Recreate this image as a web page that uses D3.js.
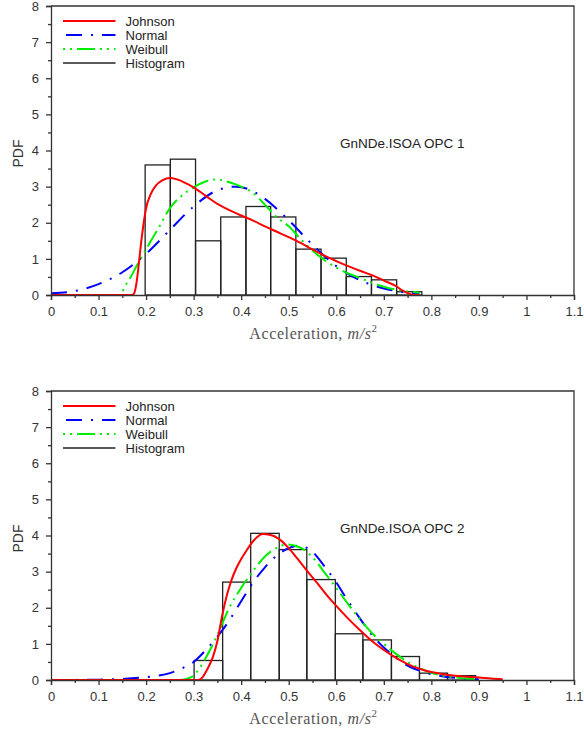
<!DOCTYPE html>
<html><head><meta charset="utf-8">
<script src="https://cdn.jsdelivr.net/npm/d3@7"></script>
<style>body{margin:0;background:#fff}</style>
</head><body>
<svg id="c" width="584" height="731"></svg>
<script>
// ---------- data ----------
const xTickValues = [0,0.1,0.2,0.3,0.4,0.5,0.6,0.7,0.8,0.9,1,1.1];
const xMinorValues = [0.05,0.15,0.25,0.35,0.45,0.55,0.65,0.75,0.85,0.95,1.05];
const yTickValues = [0,1,2,3,4,5,6,7,8];
const yMinorValues = [0.5,1.5,2.5,3.5,4.5,5.5,6.5,7.5];
const legendLabels = ["Johnson","Normal","Weibull","Histogram"];
const panelTitles = ["GnNDe.ISOA OPC 1","GnNDe.ISOA OPC 2"];

const hist1Edges  = [0.198,0.251,0.304,0.357,0.410,0.462,0.515,0.568,0.621,0.674,0.727,0.780];
const hist1Values = [3.60,3.76,1.50,2.16,2.45,2.16,1.27,1.02,0.51,0.42,0.09];
const hist2Edges  = [0.301,0.361,0.420,0.480,0.538,0.598,0.656,0.716,0.775,0.834,0.893];
const hist2Values = [0.54,2.71,4.06,3.61,2.78,1.28,1.11,0.65,0.19,0.12];

const johnson1 = [[0,0],[0.17,0],[0.175,0.05],[0.18,0.35],[0.185,0.9],[0.19,1.5],[0.195,2.0],[0.2,2.4],[0.21,2.8],[0.22,3.02],[0.235,3.18],[0.25,3.24],[0.265,3.2],[0.28,3.12],[0.3,2.98],[0.325,2.75],[0.35,2.52],[0.375,2.35],[0.4,2.2],[0.425,2.06],[0.45,1.9],[0.475,1.75],[0.5,1.6],[0.525,1.44],[0.55,1.26],[0.575,1.09],[0.6,0.94],[0.625,0.8],[0.65,0.67],[0.675,0.55],[0.7,0.4],[0.725,0.25],[0.74,0.12],[0.755,0.03],[0.765,0],[0.775,0]];
const normal1 = [[0,0.05],[0.05,0.11],[0.1,0.3],[0.15,0.63],[0.2,1.14],[0.25,1.8],[0.3,2.45],[0.35,2.9],[0.39,3.0],[0.425,2.87],[0.45,2.66],[0.5,2.07],[0.55,1.39],[0.6,0.8],[0.65,0.41],[0.7,0.18],[0.75,0.07],[0.775,0.04]];
const weibull1 = [[0,0],[0.1,0],[0.145,0],[0.15,0.08],[0.156,0.25],[0.166,0.46],[0.18,0.8],[0.2,1.27],[0.225,1.83],[0.25,2.4],[0.275,2.75],[0.3,2.98],[0.325,3.14],[0.345,3.2],[0.375,3.12],[0.4,3.0],[0.425,2.82],[0.45,2.5],[0.475,2.15],[0.5,1.9],[0.525,1.55],[0.55,1.23],[0.575,0.97],[0.6,0.76],[0.625,0.6],[0.65,0.47],[0.675,0.34],[0.7,0.23],[0.725,0.15],[0.75,0.1],[0.775,0.06]];

const johnson2 = [[0,0],[0.31,0],[0.32,0.1],[0.33,0.33],[0.34,0.62],[0.35,1.08],[0.36,1.78],[0.37,2.35],[0.38,2.78],[0.39,3.1],[0.4,3.35],[0.412,3.6],[0.425,3.84],[0.445,4.04],[0.46,4.02],[0.48,3.9],[0.5,3.65],[0.517,3.38],[0.54,3.0],[0.56,2.68],[0.58,2.35],[0.6,2.05],[0.625,1.7],[0.65,1.38],[0.675,1.08],[0.7,0.83],[0.725,0.62],[0.75,0.44],[0.775,0.31],[0.8,0.22],[0.825,0.16],[0.85,0.12],[0.875,0.09],[0.9,0.07],[0.925,0.04],[0.95,0.02]];
const normal2 = [[0,0],[0.1,0.01],[0.15,0.03],[0.2,0.08],[0.225,0.12],[0.25,0.19],[0.275,0.32],[0.3,0.5],[0.325,0.82],[0.35,1.2],[0.375,1.65],[0.4,2.18],[0.425,2.7],[0.45,3.12],[0.475,3.45],[0.5,3.65],[0.52,3.72],[0.55,3.55],[0.575,3.15],[0.6,2.7],[0.625,2.18],[0.65,1.7],[0.675,1.25],[0.7,0.9],[0.725,0.62],[0.75,0.4],[0.775,0.26],[0.8,0.16],[0.825,0.1],[0.85,0.06],[0.875,0.03],[0.9,0.02]];
const weibull2 = [[0,0],[0.27,0],[0.285,0.03],[0.3,0.12],[0.31,0.28],[0.325,0.6],[0.35,1.25],[0.375,2.0],[0.4,2.55],[0.425,3.02],[0.45,3.42],[0.475,3.66],[0.495,3.75],[0.525,3.66],[0.55,3.4],[0.575,2.98],[0.6,2.55],[0.625,2.1],[0.65,1.68],[0.675,1.3],[0.7,1.0],[0.725,0.73],[0.75,0.5],[0.775,0.33],[0.8,0.2],[0.825,0.12],[0.85,0.07],[0.875,0.04],[0.9,0.02]];

// ---------- layout / styles ----------
const svg = d3.select("#c");
const L = 51, R = 574;
const panels = [
  {top:6, bottom:295, edges:hist1Edges, vals:hist1Values, j:johnson1, n:normal1, w:weibull1, title:panelTitles[0]},
  {top:391, bottom:680, edges:hist2Edges, vals:hist2Values, j:johnson2, n:normal2, w:weibull2, title:panelTitles[1]}
];
const styles = {
  Johnson:{color:"#ff0000", dash:null, width:2},
  Normal:{color:"#0000ff", dash:"16,9,2,9", width:2, offset:33},
  Weibull:{color:"#00ee00", dash:"2,5,2,5,18,5", width:2, offset:0},
  Histogram:{color:"#222", dash:null, width:1.3}
};
const FONT = "'Liberation Sans', Arial, sans-serif";
const AX = "#333";

panels.forEach(p => {
  const x = d3.scaleLinear().domain([0,1.1]).range([L,R]);
  const y = d3.scaleLinear().domain([0,8]).range([p.bottom,p.top]);
  const g = svg.append("g");

  // histogram
  g.append("g").selectAll("rect").data(p.vals).join("rect")
    .attr("x", (d,i) => x(p.edges[i]))
    .attr("width", (d,i) => x(p.edges[i+1]) - x(p.edges[i]))
    .attr("y", d => y(d))
    .attr("height", d => y(0) - y(d))
    .attr("fill","none").attr("stroke",styles.Histogram.color).attr("stroke-width",styles.Histogram.width);

  const line = d3.line().x(d => x(d[0])).y(d => y(d[1])).curve(d3.curveMonotoneX);
  [["Normal",p.n],["Weibull",p.w],["Johnson",p.j]].forEach(([k,data]) => {
    const s = styles[k];
    g.append("path").datum(data).attr("d", line)
      .attr("fill","none").attr("stroke", s.color).attr("stroke-width", s.width)
      .attr("stroke-dasharray", s.dash).attr("stroke-linejoin","round");
  });

  // axes
  g.append("g").attr("transform",`translate(0,${p.bottom})`)
    .call(d3.axisBottom(x).tickValues(xTickValues).tickSize(5).tickPadding(7).tickFormat(d => String(d)));
  g.append("g").attr("transform",`translate(0,${p.bottom})`)
    .call(d3.axisBottom(x).tickValues(xMinorValues).tickSize(3).tickFormat(""))
    .call(a => a.select(".domain").remove());
  g.append("g").attr("transform",`translate(${L},0)`)
    .call(d3.axisLeft(y).tickValues(yTickValues).tickSize(5).tickPadding(7).tickFormat(d => String(d)));
  g.append("g").attr("transform",`translate(${L},0)`)
    .call(d3.axisLeft(y).tickValues(yMinorValues).tickSize(3).tickFormat(""))
    .call(a => a.select(".domain").remove());
  g.selectAll(".domain, .tick line").attr("stroke",AX).attr("stroke-width",1.3);
  g.selectAll(".tick text").attr("fill",AX).style("font-family",FONT).style("font-size","13px");
  // frame (top and right)
  g.append("path").attr("d",`M${L},${p.top}H${R}V${p.bottom}`).attr("fill","none").attr("stroke",AX).attr("stroke-width",1.3);

  // y label
  g.append("text").attr("transform",`translate(23,${(p.top+p.bottom)/2+3}) rotate(-90)`)
    .attr("text-anchor","middle").attr("fill",AX)
    .style("font-family",FONT).style("font-size","14px").text("PDF");

  // x label
  const xl = g.append("text").attr("x",(L+R)/2 + 1).attr("y",p.bottom+44).attr("text-anchor","middle")
    .attr("fill","#555").style("font-family","'Liberation Serif','Times New Roman',serif")
    .style("font-size","16px").style("letter-spacing","0.6px");
  xl.append("tspan").text("Acceleration, ");
  xl.append("tspan").style("font-style","italic").text("m/s");
  xl.append("tspan").attr("dy",-7).style("font-size","11px").text("2");

  // title
  g.append("text").attr("x",340).attr("y",p.top+142).attr("fill","#222")
    .style("font-family",FONT).style("font-size","13.5px").text(p.title);

  // legend
  const rows = [15,29,43,57];
  legendLabels.forEach((k,i) => {
    const s = styles[k];
    const yy = p.top + rows[i];
    g.append("line").attr("x1",63).attr("x2",115.5).attr("y1",yy).attr("y2",yy)
      .attr("stroke",s.color).attr("stroke-width", s.width)
      .attr("stroke-dasharray", s.dash).attr("stroke-dashoffset", s.offset || 0);
    g.append("text").attr("x",125.5).attr("y",yy).attr("dy","0.35em").attr("fill","#222")
      .style("font-family",FONT).style("font-size","13px").text(k);
  });
});
</script>
</body></html>
